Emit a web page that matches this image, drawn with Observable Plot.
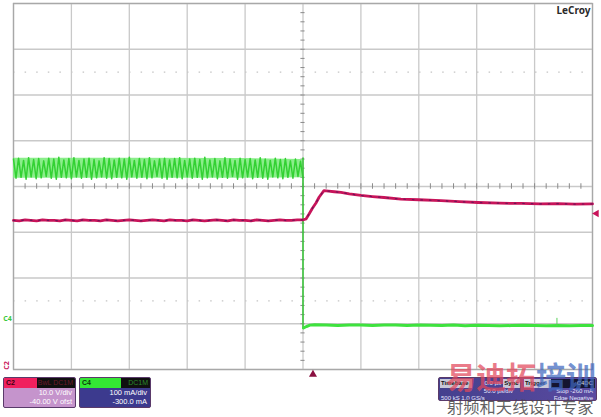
<!DOCTYPE html>
<html>
<head>
<meta charset="utf-8">
<script src="https://cdn.jsdelivr.net/npm/d3@7"></script>
<script src="https://cdn.jsdelivr.net/npm/@observablehq/plot@0.6"></script>
<style>
  html, body { margin: 0; padding: 0; background: #fff; }
  #wrap { position: relative; width: 601px; height: 417px; overflow: hidden; background: #fff; font-family: "Liberation Sans", Arial, sans-serif; }
  #chart svg { display: block; }
  .abs { position: absolute; box-sizing: border-box; }
  .chbox { border: 1px solid #5a3a6a; border-radius: 2px; overflow: hidden; }
  .hdr { display: flex; height: 10px; font-size: 7px; line-height: 10px; }
  .row { text-align: right; color: #fff; font-size: 7.5px; line-height: 10px; padding-right: 3px; }
</style>
</head>
<body>
<div id="wrap">
  <div id="chart"></div>
</div>
<script>
// ---- Timebase / grid (µs, divisions) ----
const xGrid = [-250, -200, -150, -100, -50, 0, 50, 100, 150, 200, 250];
const yGrid = [-4, -3, -2, -1, 0, 1, 2, 3, 4];
const yDotted = [2.5, -2.5];

// ---- Channel settings ----
const c2VoltsPerDiv = 10, c2Center = 40;     // 10.0 V/div, -40.00 V ofst
const c4mAPerDiv = 100, c4Center = 300;      // 100 mA/div, -300.0 mA ofst

// ---- C2 (voltage) : before load step, sampled every 5 µs from -250 µs ----
const c2PreStep = 5;
const c2Pre = [32.6,32.5,32.7,32.6,32.5,32.7,32.6,32.6,32.5,32.7,
               32.6,32.5,32.7,32.6,32.6,32.5,32.7,32.6,32.5,32.6,
               32.7,32.6,32.5,32.6,32.7,32.6,32.5,32.7,32.6,32.6,
               32.5,32.7,32.6,32.5,32.6,32.7,32.6,32.5,32.7,32.6,
               32.6,32.5,32.7,32.6,32.5,32.6,32.7,32.6,32.6,32.7,32.7];
// ---- C2 after the step ----
const c2PostTime = [2.6, 5, 8, 11.2, 14, 18.1, 22, 27, 32.8, 40, 50.1, 60, 70, 84.6, 100, 119.2, 135, 151.1, 170, 188.3, 205, 220, 235, 250];
const c2PostVolt = [32.9, 33.9, 35.2, 36.4, 37.7, 39.1, 39.0, 38.85, 38.7, 38.4, 38.05, 37.8, 37.6, 37.25, 37.1, 36.9, 36.7, 36.5, 36.35, 36.3, 36.2, 36.25, 36.15, 36.2];

// ---- C4 (current) : ripple before step, 116 samples spanning -250..0 µs ----
const c4Ripple = [
360,318,362,320,357,316,363,321,359,317,361,319,356,322,362,318,360,316,364,320,
358,319,361,317,363,321,357,318,360,320,362,316,359,319,356,321,363,318,361,317,
358,320,362,319,360,316,364,321,357,318,361,320,359,317,363,319,356,322,360,318,
362,316,358,320,361,319,363,317,357,321,360,318,362,320,359,316,364,319,358,321,
361,317,356,320,363,318,360,322,357,316,362,319,359,321,361,317,358,320,363,318,
360,316,357,321,362,319,359,317,361,320,356,318,360,322,355,319];
const c4EnvTime = [-250, -150, -50, 0];
const c4EnvHigh = [362, 362, 361, 359];
const c4EnvLow  = [318, 318, 318, 319];
// step edge
const c4StepTime = [0, 0];
const c4StepVal  = [362, -10];
// after step
const c4PostTime = [0.5, 3, 6, 10, 20, 30, 40, 50, 60, 70, 80, 90, 100, 110, 120, 130, 140, 150, 160, 170, 180, 190, 200, 210, 220, 230, 240, 250];
const c4PostVal  = [-9, -6, -3, -2, -3, -4, -2.5, -3, -4, -3, -2.5, -4, -3, -3.5, -4, -3, -4.5, -3.5, -4, -4.5, -4, -3.5, -4, -4.5, -4, -4.5, -4, -4];
const c4GlitchTime = [219.3, 219.3];
const c4GlitchVal  = [-4, 12];

// markers
const c2RightMarker = 34.1;   // V
const triggerTime = 8.6;      // µs

// ---- build tables ----
const c2toDiv = v => (v - c2Center) / c2VoltsPerDiv;
const c4toDiv = v => (v - c4Center) / c4mAPerDiv;
const c2Data = [
  ...c2Pre.map((v, i) => ({t: -250 + i * c2PreStep, v})),
  ...c2PostTime.map((t, i) => ({t, v: c2PostVolt[i]}))
];
const rippleStep = 250 / (c4Ripple.length - 1);
const c4RipData = c4Ripple.map((v, i) => ({t: -250 + i * rippleStep, v}));
const c4Env = c4EnvTime.map((t, i) => ({t, hi: c4EnvHigh[i], lo: c4EnvLow[i]}));
const c4Step = c4StepTime.map((t, i) => ({t, v: c4StepVal[i]}));
const c4Post = c4PostTime.map((t, i) => ({t, v: c4PostVal[i]}));
const c4Glitch = c4GlitchTime.map((t, i) => ({t, v: c4GlitchVal[i]}));

const xMinor = d3.range(-250, 251, 10);
const yMinor = d3.range(-4, 4.001, 0.2).map(v => Math.round(v * 10) / 10);

const gridColor = "#c9c9c9";
const red = "#c8145a";
const green = "#3ee23e";

const chart = Plot.plot({
  width: 601,
  height: 417,
  marginTop: 3,
  marginLeft: 13,
  marginRight: 9,
  marginBottom: 48,
  x: {domain: [-250, 250], axis: null},
  y: {domain: [-4, 4], axis: null},
  style: {background: "#fff"},
  marks: [
    Plot.ruleY(yDotted, {stroke: "#c4c4c4", strokeDasharray: "1.5,10.1", strokeWidth: 1.2}),
    Plot.ruleX(xGrid, {stroke: gridColor, strokeWidth: 1.3}),
    Plot.ruleY(yGrid, {stroke: gridColor, strokeWidth: 1.3}),
    Plot.ruleX(xMinor, {y1: -0.06, y2: 0.06, stroke: "#8a8a8a", strokeWidth: 1}),
    Plot.ruleY(yMinor, {x1: -1.8, x2: 1.8, stroke: "#8a8a8a", strokeWidth: 1}),
    Plot.frame({stroke: "#a8a8a8", strokeWidth: 1.3}),
    // C4 current
    Plot.areaY(c4Env, {x: "t", y1: d => c4toDiv(d.lo), y2: d => c4toDiv(d.hi), fill: "#7eec7e", fillOpacity: 0.9}),
    Plot.line(c4RipData, {x: "t", y: d => c4toDiv(d.v), stroke: "#33d133", strokeWidth: 1.5}),
    Plot.line(c4Step, {x: "t", y: d => c4toDiv(d.v), stroke: "#3cc43c", strokeWidth: 1.6}),
    Plot.line(c4Post, {x: "t", y: d => c4toDiv(d.v), stroke: green, strokeWidth: 3}),
    Plot.line(c4Glitch, {x: "t", y: d => c4toDiv(d.v), stroke: "#5ad05a", strokeWidth: 1}),
    // C2 voltage
    Plot.line(c2Data, {x: "t", y: d => c2toDiv(d.v), stroke: red, strokeWidth: 2.8}),
    Plot.line(c2Data, {x: "t", y: d => c2toDiv(d.v), stroke: "#4a1458", strokeWidth: 1.2, strokeDasharray: "1.5,7", strokeOpacity: 0.7}),
    // channel markers
    Plot.text([0], {x: -250, y: c4toDiv(0), text: () => "C4", fill: "#3cc83c", fontSize: 7, dx: -6, dy: -5, fontWeight: "bold"}),
    Plot.text([0], {x: -250, y: -4, text: () => "C2", fill: red, fontSize: 7, dx: -7, dy: -4, rotate: -90, fontWeight: "bold"}),
    Plot.dot([c2RightMarker], {x: 250, y: d => c2toDiv(d), symbol: "triangle", rotate: -90, r: 2.8, fill: red, stroke: null, dx: 4}),
    Plot.dot([triggerTime], {x: d => d, y: -4, symbol: "triangle", r: 3, fill: "#8a1040", stroke: null, dy: 5}),
    Plot.text(["LeCroy"], {frameAnchor: "top-right", dx: -2, dy: 3, text: d => d, fontSize: 10, fontWeight: "bold", fill: "#2a2a2a", textDecoration: "underline", lineAnchor: "top"})
  ]
});
document.getElementById("chart").appendChild(chart);

// ---- instrument info boxes ----
const wrap = document.getElementById("wrap");
function add(html) { wrap.insertAdjacentHTML("beforeend", html); }

add(`<div class="abs chbox" style="left:3px;top:377px;width:73px;height:31px;background:#c594cc;">
  <div class="hdr"><div style="width:31px;background:#f0205e;color:#3a0010;padding-left:2px;font-weight:bold">C2</div>
  <div style="flex:1;background:#101010;color:#6a1a2a;text-align:right;padding-right:2px">BwL DC1M</div></div>
  <div class="row" style="margin-top:0px">10.0 V/div</div>
  <div class="row" style="margin-top:-1px">-40.00 V ofst</div></div>`);

add(`<div class="abs chbox" style="left:79px;top:377px;width:72px;height:31px;background:#3c3a8e;">
  <div class="hdr"><div style="width:39px;background:#34e634;color:#0a3a0a;padding-left:2px;font-weight:bold">C4</div>
  <div style="flex:1;background:#101010;color:#2a8a2a;text-align:right;padding-right:2px">DC1M</div></div>
  <div class="row">100 mA/div</div>
  <div class="row" style="margin-top:-1px">-300.0 mA</div></div>`);

add(`<div class="abs chbox" style="left:438px;top:377px;width:159px;height:24px;background:linear-gradient(90deg,#44408e,#5a4aa0);font-size:6px;color:#e8e8ff;white-space:nowrap;">
  <div style="display:flex;height:9px;line-height:9px;margin:1px 1px 0 1px;">
    <div style="width:31px;background:#c8c8d8;color:#111;padding-left:1px;font-weight:bold;overflow:hidden">Timebase</div>
    <div style="width:29px;text-align:right;padding-right:2px;overflow:hidden">0.0 µs</div>
    <div style="width:17px;background:#c8c8d8;color:#111;font-weight:bold;overflow:hidden;text-align:center">Sync</div>
    <div style="width:4px"></div>
    <div style="width:26px;background:#c8c8d8;color:#111;font-weight:bold;padding-left:1px;overflow:hidden">Trigger</div>
    <div style="flex:1;background:#141430;text-align:right;padding-right:2px;color:#ddd;overflow:hidden">C4DC</div>
  </div>
  <div style="display:flex;height:7px;line-height:7px;"><div style="width:74px;text-align:right;overflow:hidden">50.0 µs/div</div><div style="flex:1;text-align:right;padding-right:3px;overflow:hidden">Stop -260 mA</div></div>
  <div style="display:flex;height:7px;line-height:7px;"><div style="width:74px;padding-left:2px;overflow:hidden">500 kS 1.0 GS/s</div><div style="flex:1;text-align:right;padding-right:3px;overflow:hidden">Edge Negative</div></div>
</div>`);

// watermark
add(`<div class="abs" style="left:446px;top:358px;font-family:'Noto Sans CJK SC';font-weight:bold;font-size:30px;line-height:34px;white-space:nowrap;letter-spacing:0px;">
  <span style="color:rgba(226,72,92,0.72)">易迪拓</span><span style="color:rgba(64,104,192,0.72)">培训</span></div>`);
add(`<div class="abs" style="left:447px;top:396px;font-family:'Noto Sans CJK SC';font-size:16.3px;line-height:20px;white-space:nowrap;color:rgba(70,70,70,0.85);">射频和天线设计专家</div>`);
</script>
</body>
</html>
